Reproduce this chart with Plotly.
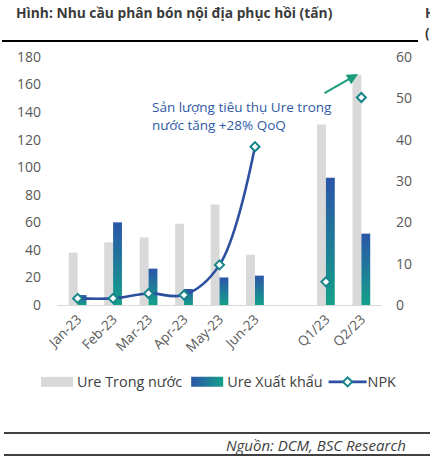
import plotly.graph_objects as go

categories = ["Jan-23", "Feb-23", "Mar-23", "Apr-23", "May-23", "Jun-23", " ", "Q1/23", "Q2/23"]
ure_trong_nuoc = [38, 45.5, 49, 59, 73, 36.5, None, 131, 167]
ure_xuat_khau = [7.2, 60, 26.4, 11.6, 20, 21.3, None, 92.4, 51.8]
npk_months = ["Jan-23", "Feb-23", "Mar-23", "Apr-23", "May-23", "Jun-23"]
npk_monthly = [1.6, 1.6, 2.8, 2.4, 9.7, 38.3]
npk_quarters = ["Q1/23", "Q2/23"]
npk_quarterly = [5.6, 50.2]
left_ticks = [0, 20, 40, 60, 80, 100, 120, 140, 160, 180]
right_ticks = [0, 10, 20, 30, 40, 50, 60]

FONT = "Open Sans"
W, H = 430, 466
L, R, T, B = 57, 48, 57, 161
PW, PH = W - L - R, H - T - B


def px(x):
    return (x - L) / PW


def py(y):
    return (H - B - y) / PH


fig = go.Figure()
fig.add_trace(go.Bar(x=categories, y=ure_trong_nuoc, name="Ure Trong nước",
                     marker=dict(color="#d9d9d9", line=dict(width=0))))
fig.add_trace(go.Bar(x=categories, y=ure_xuat_khau, name="Ure Xuất khẩu",
                     marker=dict(color="#2364a6", line=dict(width=0))))
fig.add_trace(go.Scatter(x=npk_months, y=npk_monthly, name="NPK", yaxis="y2",
                         mode="lines+markers",
                         line=dict(color="#2d4f9f", width=2.6, shape="spline", smoothing=1),
                         marker=dict(symbol="diamond", size=7, color="white",
                                     line=dict(color="#16858a", width=2))))
fig.add_trace(go.Scatter(x=npk_quarters, y=npk_quarterly, name="NPK", yaxis="y2",
                         mode="markers", showlegend=False,
                         marker=dict(symbol="diamond", size=7, color="white",
                                     line=dict(color="#16858a", width=2))))

fig.update_layout(
    width=W, height=H,
    margin=dict(l=L, r=R, t=T, b=B),
    paper_bgcolor="white", plot_bgcolor="white",
    barmode="group", bargap=0.5, bargroupgap=0,
    font=dict(family=FONT, color="#595959", size=13),
    xaxis=dict(type="category", categoryorder="array", categoryarray=categories,
               showline=True, linecolor="#d9d9d9", linewidth=1, showgrid=False,
               ticks="", tickangle=-45, tickfont=dict(size=13.5, color="#595959")),
    yaxis=dict(range=[0, 180], tickvals=left_ticks, showgrid=False, zeroline=False,
               showline=False, ticks="", ticklabelstandoff=15,
               tickfont=dict(size=14, color="#595959")),
    yaxis2=dict(range=[0, 60], tickvals=right_ticks, overlaying="y", side="right",
                showgrid=False, zeroline=False, showline=False, ticks="",
                ticklabelstandoff=13, tickfont=dict(size=14, color="#595959")),
    legend=dict(orientation="h", x=px(37), xanchor="left", y=py(382), yanchor="middle",
                font=dict(size=14.4, color="#404040"), bgcolor="rgba(0,0,0,0)",
                traceorder="normal", itemwidth=30),
    showlegend=True,
)

annotations = [
    dict(text="<b>Hình: Nhu cầu phân bón nội địa phục hồi (tấn)</b>", x=px(14), y=py(13),
         xanchor="left", yanchor="middle", font=dict(size=13.8, color="#3b3b3b")),
    dict(text="<b>H</b>", x=px(423), y=py(13), xanchor="left", yanchor="middle",
         font=dict(size=13.5, color="#3b3b3b")),
    dict(text="<b>(</b>", x=px(423), y=py(33), xanchor="left", yanchor="middle",
         font=dict(size=13.5, color="#3b3b3b")),
    dict(text="Sản lượng tiêu thụ Ure trong<br>nước tăng +28% QoQ", x=px(150), y=py(116),
         xanchor="left", yanchor="middle", align="left",
         font=dict(size=13.5, color="#2f5aa6")),
    dict(text="<i>Nguồn: DCM, BSC Research</i>", x=px(408), y=py(445),
         xanchor="right", yanchor="middle", font=dict(size=15, color="#404040")),
    dict(text="", x=px(358), y=py(74), ax=-35, ay=20, axref="pixel", ayref="pixel",
         showarrow=True, arrowhead=2, arrowsize=1.1, arrowwidth=2, arrowcolor="#1a9c7c"),
]
for a in annotations:
    a.setdefault("xref", "paper")
    a.setdefault("yref", "paper")
    a.setdefault("showarrow", False)
fig.update_layout(annotations=annotations)

shapes = [
    dict(type="line", x0=px(2), x1=px(418), y0=py(41), y1=py(41), line=dict(color="black", width=2)),
    dict(type="line", x0=px(4), x1=px(430), y0=py(433), y1=py(433), line=dict(color="black", width=1.5)),
    dict(type="line", x0=px(4), x1=px(430), y0=py(455), y1=py(455), line=dict(color="black", width=1.5)),
]
for s in shapes:
    s["xref"] = "paper"
    s["yref"] = "paper"
fig.update_layout(shapes=shapes)

post = """
document.body.style.margin = '0';
document.body.style.padding = '0';
document.body.style.overflow = 'hidden';
var gd = document.getElementById('{plot_id}');
function applyGrad(){
  var ns = 'http://www.w3.org/2000/svg';
  var svg = gd.querySelector('svg.main-svg');
  if (!svg) return;
  var defs = svg.querySelector('defs');
  if (!document.getElementById('xkGradV')) {
    function mk(id, x2, y2, c1, c2){
      var lg = document.createElementNS(ns, 'linearGradient');
      lg.setAttribute('id', id);
      lg.setAttribute('x1', '0'); lg.setAttribute('y1', '0');
      lg.setAttribute('x2', x2); lg.setAttribute('y2', y2);
      var s1 = document.createElementNS(ns, 'stop');
      s1.setAttribute('offset', '0'); s1.setAttribute('stop-color', c1);
      var s2 = document.createElementNS(ns, 'stop');
      s2.setAttribute('offset', '1'); s2.setAttribute('stop-color', c2);
      lg.appendChild(s1); lg.appendChild(s2);
      defs.appendChild(lg);
    }
    mk('xkGradV', '0', '1', '#2b55a8', '#14a08a');
    mk('xkGradH', '1', '0', '#2b55a8', '#14a08a');
  }
  var traces = gd.querySelectorAll('.barlayer .trace');
  if (traces.length > 1) {
    traces[1].querySelectorAll('path').forEach(function(p){ p.style.fill = 'url(#xkGradV)'; });
  }
  var lt = gd.querySelectorAll('.legend .traces');
  lt.forEach(function(t, i){
    if (i < 2) {
      t.querySelectorAll('.legendpoints path').forEach(function(p){
        p.setAttribute('d', 'M-16,5H16V-5H-16Z');
        if (i == 1) p.style.fill = 'url(#xkGradH)';
      });
    } else {
      t.querySelectorAll('.legendlines path').forEach(function(p){
        p.setAttribute('d', 'M1,0h38');
      });
    }
  });
}
applyGrad();
gd.on('plotly_afterplot', applyGrad);
"""

fig.write_html("out.html", post_script=post, config={"displayModeBar": False})
